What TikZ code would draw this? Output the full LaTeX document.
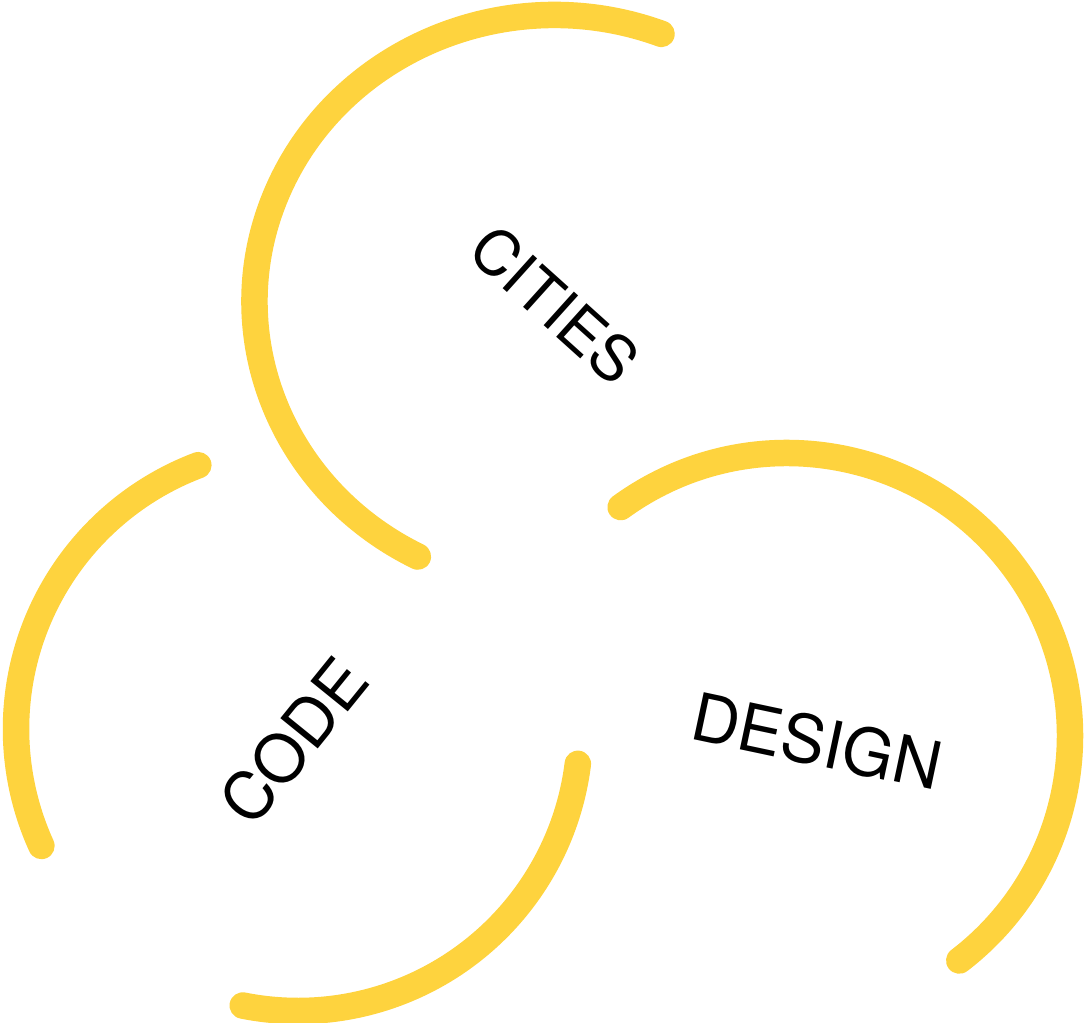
\documentclass[tikz,border=0pt]{standalone}
\usepackage{fontspec}
\setmainfont{TeX Gyre Heros}
\definecolor{sun}{RGB}{254,211,62}
\begin{document}
\begin{tikzpicture}[x=1pt,y=1pt,
  ring/.style={draw=sun, line width=26.5pt, line cap=round},
  word/.style={inner sep=0pt, anchor=center, text=black}]
\useasboundingbox (0,0) rectangle (1085,-1023);
\coordinate (cc) at (554.5,-301.5);
\coordinate (cd) at (298,-729);
\coordinate (ce) at (787,-736);
% CITIES ring
\draw[ring] (cc) ++(69.1:300pt and 286.5pt) arc[start angle=69.1, end angle=242.9, x radius=300pt, y radius=286.5pt];
% CODE ring (two parts)
\draw[ring] (cd) ++(110.7:282pt) arc[start angle=110.7, end angle=204.5, radius=282pt];
\draw[ring] (cd) ++(258.7:282pt) arc[start angle=258.7, end angle=352.9, radius=282pt];
% DESIGN ring
\draw[ring] (ce) ++(126:283pt) arc[start angle=126, end angle=-52.5, radius=283pt];
% labels
\node[word, font=\fontsize{62}{62}\selectfont, rotate=-42] (cities) at (555,-305) {CITIES};
\node[word, font=\fontsize{66}{66}\selectfont, rotate=51] (code) at (294,-741) {CODE};
\node[word, font=\fontsize{66}{66}\selectfont, rotate=-12] (design) at (817,-741) {DESIGN};
\end{tikzpicture}
\end{document}
